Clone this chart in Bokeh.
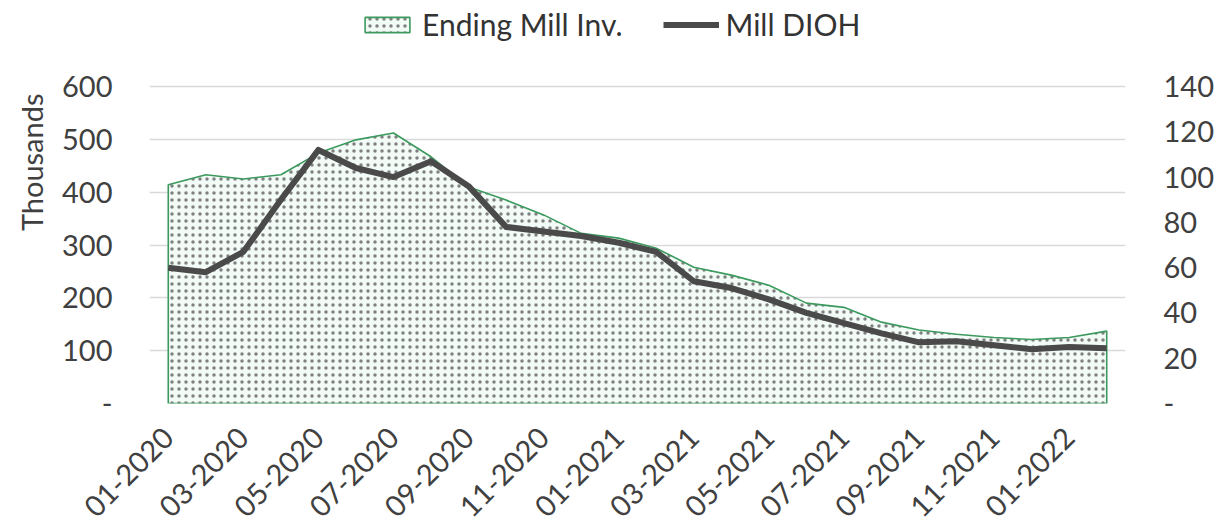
from math import pi
from bokeh.plotting import figure
from bokeh.models import Range1d, LinearAxis, FixedTicker, Legend, LegendItem, Title
from bokeh.embed import file_html
from bokeh.resources import INLINE

months = ["01-2020", "02-2020", "03-2020", "04-2020", "05-2020", "06-2020",
          "07-2020", "08-2020", "09-2020", "10-2020", "11-2020", "12-2020",
          "01-2021", "02-2021", "03-2021", "04-2021", "05-2021", "06-2021",
          "07-2021", "08-2021", "09-2021", "10-2021", "11-2021", "12-2021",
          "01-2022", "02-2022"]
# Ending Mill Inv. (thousands)
inv = [414, 433, 425, 433, 474, 499, 512, 467, 410, 385, 357, 322, 313,
       294, 258, 243, 224, 190, 182, 154, 139, 131, 125, 121, 125, 137]
# Mill DIOH (right axis)
dioh = [60, 58, 67, 90, 112, 104, 100, 107, 96, 78, 76, 74, 71,
        67, 54, 51, 46, 40, 35.5, 31, 27, 27.5, 25.7, 24, 25, 24.4]
left_ticks = [0, 100, 200, 300, 400, 500, 600]
right_ticks = [0, 20, 40, 60, 80, 100, 120, 140]
series_names = ["Ending Mill Inv.", "Mill DIOH"]

FONT = "Lato"
TXT = "#404040"

# frame spans from the top of the canvas down to the zero line; the
# extra headroom above 600 / 140 holds the legend
p = figure(width=1218, height=530, output_backend="svg", toolbar_location=None,
           x_range=Range1d(-0.5, len(months) - 0.5), y_range=Range1d(0, 762.8),
           min_border_left=147, min_border_right=93, min_border_top=0,
           min_border_bottom=127)
p.outline_line_color = None
p.extra_y_ranges = {"dioh": Range1d(0, 178.0)}

xs = list(range(len(months)))
px = [xs[0]] + xs + [xs[-1]]
py = [0] + inv + [0]
area = p.patch(px, py, fill_color="#f2fbf5", hatch_pattern="dot",
               hatch_color="#808080", hatch_scale=7, hatch_weight=1,
               line_color="#3c9a5f", line_width=1.6)
line = p.line(xs, dioh, y_range_name="dioh", line_color="#4a4a4a",
              line_width=6, line_join="round")

xt = xs[::2]
p.xaxis.ticker = FixedTicker(ticks=xt)
p.xaxis.major_label_overrides = {i: months[i] for i in xt}
p.xaxis.major_label_orientation = pi / 4

p.yaxis.ticker = FixedTicker(ticks=left_ticks)
p.yaxis.major_label_overrides = {0: "-"}

ax2 = LinearAxis(y_range_name="dioh", ticker=FixedTicker(ticks=right_ticks))
ax2.major_label_overrides = {0: "-"}
p.add_layout(ax2, "right")

for ax in [p.xaxis[0], p.yaxis[0], ax2]:
    ax.axis_line_color = None
    ax.major_tick_line_color = None
    ax.minor_tick_line_color = None
    ax.major_tick_out = 0
    ax.major_tick_in = 0
    ax.minor_tick_out = 0
    ax.minor_tick_in = 0
    ax.major_label_text_font = FONT
    ax.major_label_text_font_size = "29px"
    ax.major_label_text_color = TXT
p.yaxis[0].major_label_standoff = 37
ax2.major_label_standoff = 38
p.xaxis[0].major_label_standoff = 29

ttl = Title(text="Thousands", align="right", offset=93,
            text_font=FONT, text_font_size="29px",
            text_font_style="normal", text_color=TXT)
try:
    ttl.standoff = 22
except Exception:
    pass
p.add_layout(ttl, "left")

p.xgrid.visible = False
p.ygrid.ticker = FixedTicker(ticks=left_ticks)
p.ygrid.grid_line_color = "#d9d9d9"
p.ygrid.grid_line_width = 1.5

legend = Legend(items=[LegendItem(label=series_names[0], renderers=[area]),
                       LegendItem(label=series_names[1], renderers=[line])],
                orientation="horizontal", location=(210, 361),
                label_text_font=FONT, label_text_font_size="30px",
                label_text_color="#333333", glyph_width=56, glyph_height=19,
                spacing=40, label_standoff=7, border_line_color=None,
                background_fill_alpha=0, padding=0, margin=0)
p.add_layout(legend)

open("out.html", "w").write(file_html(p, INLINE))
